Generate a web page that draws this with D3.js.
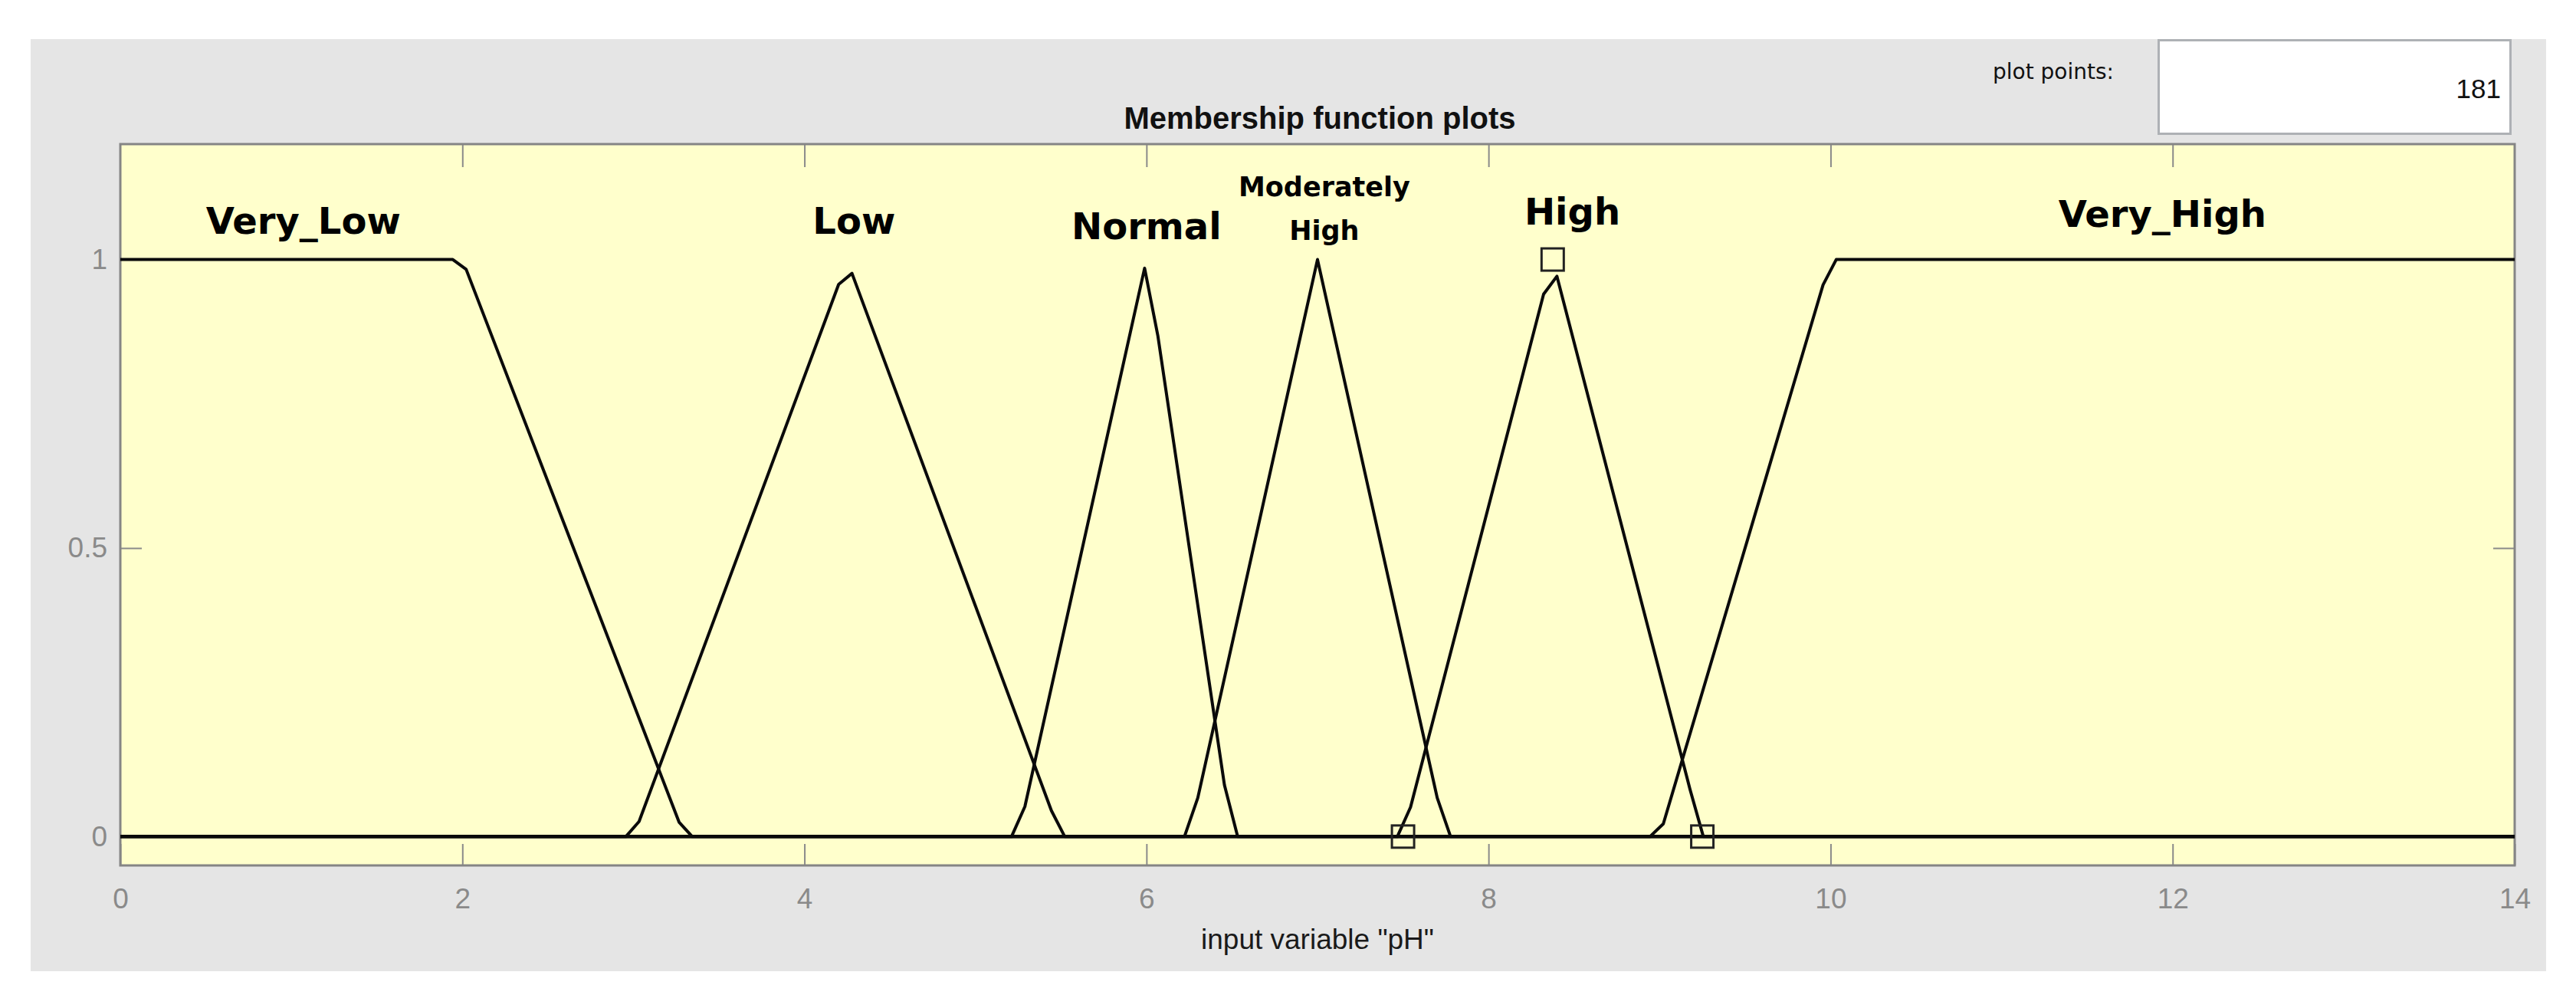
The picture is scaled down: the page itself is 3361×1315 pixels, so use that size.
<!DOCTYPE html>
<html><head><meta charset="utf-8">
<script src="https://cdn.jsdelivr.net/npm/d3@7"></script>
<style>html,body{margin:0;padding:0;background:#fff;} svg{display:block;}</style>
</head><body><svg id="c" width="3361" height="1315"></svg>
<script>
// ---- data ----
const xTicks = [0, 2, 4, 6, 8, 10, 12, 14];
const yTicks = [0, 0.5, 1];
const xDomain = [0, 14];
const yDomain = [-0.05, 1.2];

// membership functions, vertices of the plotted polylines (x = pH, y = degree)
const veryLow = [[0,1],[1.944,1],[2.022,0.983],[3.267,0.025],[3.344,0],[14,0]];
const low = [[0,0],[2.956,0],[3.033,0.026],[4.2,0.957],[4.278,0.976],[5.444,0.045],[5.522,0],[14,0]];
const normal = [[0,0],[5.211,0],[5.289,0.052],[5.989,0.985],[6.067,0.867],[6.456,0.089],[6.533,0],[14,0]];
const modHigh = [[0,0],[6.222,0],[6.3,0.067],[7.0,1],[7.7,0.067],[7.778,0],[14,0]];
const high = [[0,0],[7.467,0],[7.544,0.051],[8.322,0.94],[8.4,0.971],[9.178,0.082],[9.256,0],[14,0]];
const veryHigh = [[0,0],[8.944,0],[9.022,0.022],[9.956,0.956],[10.033,1],[14,1]];
const mfSeries = [veryLow, low, normal, modHigh, high, veryHigh];

// selected MF parameter markers (High: 7.5 8.375 9.25)
const markerX = [7.5, 8.375, 9.25];
const markerY = [0, 1, 0];

// MF labels
const labelLines = [["Very_Low"], ["Low"], ["Normal"], ["Moderately", "High"], ["High"], ["Very_High"]];
const labelX = [1.07, 4.29, 6.0, 7.04, 8.49, 11.94];
const labelY = [1.044, 1.044, 1.035, 1.110, 1.061, 1.057];

const titleText = "Membership function plots";
const xLabelText = 'input variable "pH"';
const plotPointsLabel = "plot points:";
const plotPointsValue = "181";

// ---- drawing ----
const svg = d3.select("#c");
const P = {left: 157, right: 3281, top: 188, bottom: 1129};

svg.append("rect").attr("x",0).attr("y",0).attr("width",3361).attr("height",1315).attr("fill","#ffffff");
svg.append("rect").attr("x",40).attr("y",51).attr("width",3282).attr("height",1216).attr("fill","#e5e5e5");

// plot points box
svg.append("rect").attr("x",2816.5).attr("y",52.5).attr("width",459).attr("height",122)
  .attr("fill","#ffffff").attr("stroke","#aeb1b5").attr("stroke-width",3);
svg.append("text").attr("x",2758).attr("y",103).attr("text-anchor","end")
  .attr("font-family","DejaVu Sans").attr("font-size",28).attr("fill","#111").text(plotPointsLabel);
svg.append("text").attr("x",3263).attr("y",128).attr("text-anchor","end")
  .attr("font-family","Liberation Sans, Arial").attr("font-size",35).attr("fill","#111").text(plotPointsValue);

// title
svg.append("text").attr("x",1722).attr("y",168).attr("text-anchor","middle")
  .attr("font-family","Liberation Sans, Arial").attr("font-weight","bold").attr("font-size",40)
  .attr("fill","#111").text(titleText);

const x = d3.scaleLinear().domain(xDomain).range([P.left, P.right]);
const y = d3.scaleLinear().domain(yDomain).range([P.bottom, P.top]);

// plot background
svg.append("rect").attr("x",P.left).attr("y",P.top).attr("width",P.right-P.left).attr("height",P.bottom-P.top)
  .attr("fill","#ffffcc");

const tickColor = "#8a8a8a";
function styleAxis(g, showLabels){
  g.select(".domain").remove();
  g.selectAll(".tick line").attr("stroke",tickColor).attr("stroke-width",2);
  g.selectAll(".tick text").attr("fill",tickColor).attr("font-family","Liberation Sans, Arial").attr("font-size",37);
  if(!showLabels) g.selectAll(".tick text").remove();
}
svg.append("g").attr("transform",`translate(0,${P.bottom})`)
  .call(d3.axisBottom(x).tickValues(xTicks).tickSize(-28).tickPadding(30).tickFormat(d3.format("d")))
  .call(g=>styleAxis(g,true));
svg.append("g").attr("transform",`translate(0,${P.top})`)
  .call(d3.axisTop(x).tickValues(xTicks.slice(1,-1)).tickSize(-30))
  .call(g=>styleAxis(g,false));
svg.append("g").attr("transform",`translate(${P.left},0)`)
  .call(d3.axisLeft(y).tickValues(yTicks).tickSize(-28).tickPadding(17).tickFormat(d=>String(d)))
  .call(g=>styleAxis(g,true));
svg.append("g").attr("transform",`translate(${P.right},0)`)
  .call(d3.axisRight(y).tickValues(yTicks).tickSize(-28))
  .call(g=>styleAxis(g,false));

// axes border
svg.append("rect").attr("x",P.left).attr("y",P.top).attr("width",P.right-P.left).attr("height",P.bottom-P.top)
  .attr("fill","none").attr("stroke","#858585").attr("stroke-width",3);

// membership function curves
const line = d3.line().x(d=>x(d[0])).y(d=>y(d[1]));
svg.append("g").selectAll("path").data(mfSeries).join("path")
  .attr("d", line).attr("fill","none").attr("stroke","#0a0a0a").attr("stroke-width",4)
  .attr("stroke-linejoin","round");

// parameter markers
svg.append("g").selectAll("rect").data(markerX).join("rect")
  .attr("x",(d)=>x(d)-14.5).attr("y",(d,i)=>y(markerY[i])-14.5)
  .attr("width",29).attr("height",29)
  .attr("fill","none").attr("stroke","#222").attr("stroke-width",3);

// labels
labelLines.forEach((lines,i)=>{
  const big = lines.length === 1;
  const t = svg.append("text").attr("text-anchor","middle")
    .attr("font-family","DejaVu Sans").attr("font-weight","bold")
    .attr("font-size", big ? 48 : 35).attr("fill","#000");
  lines.forEach((s,j)=>{
    t.append("tspan").attr("x",x(labelX[i])).attr("y",y(labelY[i]) + j*57).text(s);
  });
});

// x label
svg.append("text").attr("x",x(7)).attr("y",1238).attr("text-anchor","middle")
  .attr("font-family","Liberation Sans, Arial").attr("font-size",37).attr("fill","#1a1a1a").text(xLabelText);
</script>
</body></html>
